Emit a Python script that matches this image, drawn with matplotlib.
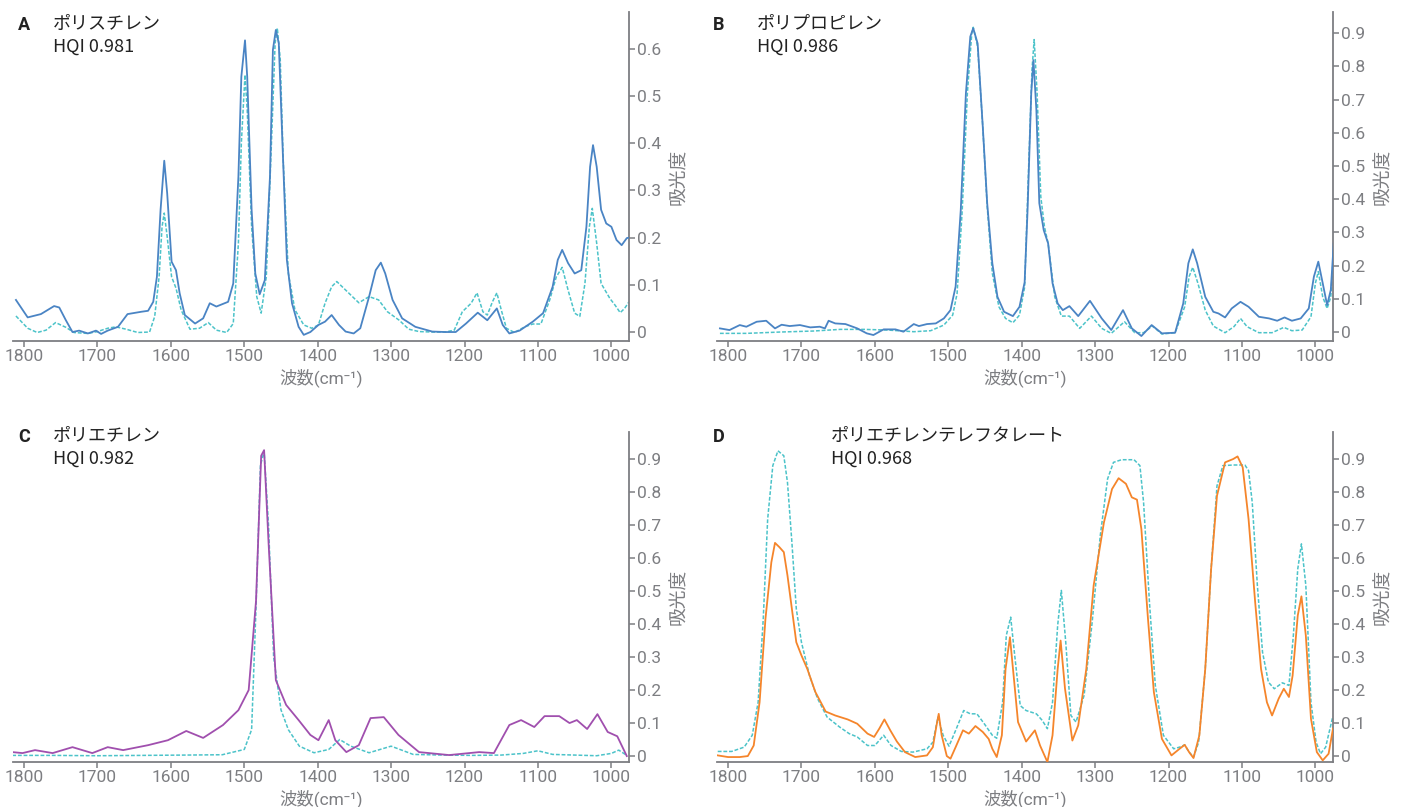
import matplotlib
matplotlib.use("Agg")
import matplotlib.pyplot as plt
from matplotlib.ticker import FuncFormatter

plt.rcParams['font.family'] = ['Roboto', 'Noto Sans CJK JP', 'DejaVu Sans']

# ---------------- data ----------------
# Panel A: polystyrene
ps_sample_wn = [1811, 1795, 1777, 1759, 1752, 1743, 1734, 1725, 1713, 1702, 1695, 1686, 1672, 1659, 1640, 1631,
                1624, 1619, 1614, 1609, 1605, 1599, 1593, 1588, 1581, 1567, 1556, 1547, 1538, 1522, 1515, 1508,
                1504, 1499, 1496, 1490, 1485, 1479, 1472, 1465, 1461, 1457, 1453, 1448, 1442, 1435, 1426, 1419,
                1410, 1399, 1390, 1381, 1371, 1362, 1351, 1342, 1330, 1321, 1314, 1308, 1298, 1285, 1267, 1244,
                1226, 1212, 1198, 1182, 1169, 1156, 1148, 1139, 1125, 1107, 1093, 1080, 1073, 1067, 1059, 1050,
                1041, 1034, 1029, 1025, 1020, 1014, 1007, 1000, 993, 986, 979, 976]
ps_sample_abs = [0.068, 0.031, 0.038, 0.055, 0.052, 0.025, 0.0, 0.003, -0.003, 0.003, -0.004, 0.003, 0.011, 0.038,
                 0.043, 0.045, 0.064, 0.117, 0.259, 0.363, 0.294, 0.149, 0.131, 0.082, 0.036, 0.018, 0.029, 0.061,
                 0.054, 0.064, 0.103, 0.329, 0.541, 0.618, 0.541, 0.259, 0.124, 0.080, 0.110, 0.329, 0.598, 0.640,
                 0.612, 0.400, 0.153, 0.061, 0.011, -0.006, 0.0, 0.015, 0.022, 0.036, 0.015, 0.001, -0.003, 0.008,
                 0.075, 0.131, 0.147, 0.124, 0.068, 0.029, 0.011, 0.001, 0.0, 0.0, 0.018, 0.041, 0.025, 0.050,
                 0.015, -0.003, 0.003, 0.022, 0.040, 0.096, 0.153, 0.174, 0.146, 0.124, 0.131, 0.223, 0.350, 0.396,
                 0.350, 0.259, 0.230, 0.223, 0.195, 0.184, 0.199, 0.200]
ps_ref_wn = [1811, 1795, 1782, 1770, 1757, 1743, 1732, 1713, 1700, 1686, 1675, 1661, 1645, 1629, 1622, 1616,
             1612, 1609, 1605, 1599, 1593, 1586, 1574, 1561, 1549, 1538, 1524, 1515, 1508, 1504, 1499, 1496,
             1490, 1483, 1477, 1470, 1463, 1458, 1455, 1451, 1447, 1440, 1431, 1419, 1408, 1399, 1390, 1381,
             1374, 1362, 1344, 1330, 1317, 1305, 1289, 1276, 1262, 1244, 1226, 1214, 1203, 1191, 1183, 1175,
             1169, 1162, 1156, 1150, 1143, 1132, 1118, 1107, 1096, 1084, 1075, 1067, 1059, 1050, 1043, 1036,
             1030, 1026, 1020, 1014, 1002, 995, 988, 982, 976]
ps_ref_abs = [0.034, 0.008, -0.001, 0.004, 0.020, 0.010, -0.001, -0.003, 0.001, 0.008, 0.011, 0.006, -0.001, 0.0,
              0.033, 0.117, 0.223, 0.252, 0.202, 0.117, 0.093, 0.047, 0.006, 0.008, 0.020, 0.004, -0.001, 0.018,
              0.188, 0.400, 0.545, 0.470, 0.223, 0.075, 0.040, 0.117, 0.400, 0.612, 0.644, 0.577, 0.365, 0.124,
              0.047, 0.015, 0.008, 0.015, 0.061, 0.096, 0.107, 0.089, 0.062, 0.075, 0.068, 0.043, 0.025, 0.006,
              0.001, 0.0, 0.0, 0.004, 0.043, 0.061, 0.083, 0.043, 0.036, 0.064, 0.083, 0.047, 0.008, -0.001,
              0.011, 0.017, 0.017, 0.068, 0.117, 0.137, 0.089, 0.040, 0.033, 0.103, 0.223, 0.262, 0.188, 0.103,
              0.071, 0.057, 0.041, 0.050, 0.064]

# Panel B: polypropylene
pp_sample_wn = [1811, 1798, 1784, 1775, 1761, 1748, 1736, 1727, 1716, 1702, 1688, 1675, 1668, 1663, 1654, 1640,
                1624, 1611, 1602, 1588, 1572, 1561, 1547, 1540, 1529, 1517, 1506, 1497, 1490, 1483, 1476, 1470,
                1466, 1460, 1453, 1447, 1440, 1433, 1424, 1412, 1403, 1396, 1392, 1387, 1384, 1380, 1376, 1370,
                1364, 1358, 1351, 1344, 1335, 1323, 1307, 1291, 1278, 1262, 1250, 1237, 1223, 1209, 1191, 1180,
                1173, 1167, 1161, 1150, 1139, 1132, 1123, 1114, 1102, 1091, 1077, 1063, 1052, 1042, 1032, 1020,
                1009, 1002, 996, 990, 984, 979, 975]
pp_sample_abs = [0.011, 0.006, 0.021, 0.016, 0.031, 0.034, 0.011, 0.022, 0.018, 0.021, 0.014, 0.016, 0.011, 0.034,
                 0.026, 0.024, 0.011, -0.004, -0.009, 0.008, 0.008, 0.001, 0.024, 0.018, 0.024, 0.026, 0.041, 0.066,
                 0.137, 0.367, 0.719, 0.890, 0.915, 0.869, 0.618, 0.388, 0.207, 0.106, 0.061, 0.048, 0.076, 0.150,
                 0.367, 0.719, 0.819, 0.669, 0.388, 0.307, 0.267, 0.147, 0.086, 0.066, 0.078, 0.048, 0.094, 0.041,
                 0.006, 0.066, 0.011, -0.012, 0.021, -0.004, -0.002, 0.086, 0.207, 0.249, 0.207, 0.106, 0.061, 0.056,
                 0.044, 0.071, 0.091, 0.076, 0.046, 0.041, 0.034, 0.044, 0.034, 0.041, 0.071, 0.167, 0.212, 0.147,
                 0.081, 0.127, 0.267]
pp_ref_wn = [1811, 1775, 1729, 1684, 1647, 1615, 1583, 1547, 1524, 1506, 1494, 1488, 1481, 1474, 1468, 1466,
             1460, 1453, 1447, 1440, 1431, 1422, 1412, 1403, 1396, 1391, 1386, 1383, 1379, 1374, 1369, 1364,
             1355, 1346, 1335, 1321, 1305, 1291, 1278, 1260, 1246, 1234, 1222, 1209, 1191, 1178, 1172, 1167,
             1160, 1150, 1139, 1123, 1111, 1102, 1093, 1077, 1059, 1043, 1032, 1018, 1006, 1000, 996, 990,
             984, 979, 975]
pp_ref_abs = [-0.004, -0.004, 0.0, 0.003, 0.008, 0.008, 0.006, 0.001, 0.004, 0.021, 0.051, 0.116, 0.367, 0.719,
              0.900, 0.918, 0.859, 0.618, 0.378, 0.177, 0.076, 0.041, 0.028, 0.051, 0.135, 0.468, 0.789, 0.881,
              0.719, 0.408, 0.317, 0.267, 0.106, 0.048, 0.048, 0.011, 0.048, 0.011, -0.004, 0.031, -0.002, -0.002,
              0.018, -0.006, -0.002, 0.076, 0.167, 0.195, 0.147, 0.066, 0.018, -0.002, 0.016, 0.041, 0.016, -0.002,
              -0.002, 0.014, 0.004, 0.006, 0.046, 0.147, 0.182, 0.106, 0.071, 0.106, 0.247]

# Panel C: polyethylene
pe_sample_wn = [1816, 1802, 1785, 1761, 1734, 1707, 1686, 1665, 1631, 1604, 1579, 1556, 1529, 1508, 1494, 1484,
                1477, 1473, 1467, 1457, 1443, 1426, 1410, 1399, 1385, 1376, 1361, 1344, 1328, 1310, 1290, 1262,
                1221, 1180, 1160, 1139, 1123, 1105, 1091, 1071, 1057, 1047, 1033, 1019, 1005, 992, 979]
pe_sample_abs = [0.012, 0.009, 0.018, 0.009, 0.027, 0.009, 0.027, 0.018, 0.033, 0.048, 0.076, 0.055, 0.094, 0.139,
                 0.200, 0.470, 0.910, 0.927, 0.650, 0.230, 0.155, 0.109, 0.064, 0.048, 0.109, 0.048, 0.012, 0.033,
                 0.115, 0.118, 0.064, 0.012, 0.003, 0.012, 0.009, 0.094, 0.109, 0.088, 0.121, 0.121, 0.100, 0.109,
                 0.082, 0.127, 0.073, 0.060, 0.0]
pe_ref_wn = [1816, 1760, 1700, 1640, 1580, 1530, 1500, 1490, 1484, 1478, 1473, 1467, 1460, 1450, 1440, 1425,
             1405, 1385, 1370, 1355, 1330, 1300, 1270, 1230, 1190, 1150, 1120, 1100, 1080, 1050, 1020, 1000,
             990, 979]
pe_ref_abs = [0.002, 0.002, 0.001, 0.002, 0.003, 0.004, 0.02, 0.08, 0.45, 0.88, 0.925, 0.70, 0.30, 0.14, 0.08,
              0.03, 0.01, 0.02, 0.05, 0.03, 0.01, 0.03, 0.005, 0.003, 0.002, 0.003, 0.008, 0.016, 0.005, 0.003,
              0.001, 0.008, 0.018, 0.002]

# Panel D: polyethylene terephthalate
pet_sample_wn = [1814, 1800, 1784, 1773, 1765, 1757, 1749, 1741, 1736, 1730, 1724, 1719, 1713, 1707, 1700, 1692,
                 1681, 1667, 1654, 1637, 1624, 1610, 1601, 1594, 1587, 1579, 1570, 1559, 1545, 1529, 1521, 1516,
                 1513, 1509, 1502, 1497, 1490, 1480, 1472, 1463, 1453, 1445, 1440, 1434, 1427, 1422, 1416, 1411,
                 1405, 1394, 1382, 1375, 1365, 1358, 1351, 1347, 1341, 1331, 1323, 1312, 1302, 1288, 1277, 1268,
                 1258, 1250, 1243, 1237, 1228, 1220, 1209, 1196, 1185, 1178, 1172, 1166, 1158, 1150, 1142, 1134,
                 1123, 1112, 1106, 1099, 1091, 1082, 1074, 1066, 1059, 1050, 1043, 1036, 1031, 1024, 1019, 1013,
                 1006, 998, 990, 982, 976]
pet_sample_abs = [0.002, -0.003, -0.003, 0.0, 0.032, 0.163, 0.416, 0.587, 0.646, 0.633, 0.618, 0.547, 0.446, 0.345,
                  0.305, 0.264, 0.194, 0.135, 0.123, 0.111, 0.098, 0.068, 0.058, 0.083, 0.111, 0.078, 0.044, 0.012,
                  -0.003, 0.002, 0.027, 0.093, 0.128, 0.063, 0.0, -0.008, 0.027, 0.078, 0.068, 0.091, 0.073, 0.052,
                  0.022, -0.003, 0.063, 0.264, 0.360, 0.244, 0.103, 0.044, 0.078, 0.032, -0.018, 0.063, 0.264, 0.350,
                  0.204, 0.047, 0.093, 0.264, 0.517, 0.708, 0.809, 0.842, 0.825, 0.784, 0.777, 0.688, 0.416, 0.194,
                  0.052, 0.002, 0.022, 0.034, 0.012, -0.006, 0.063, 0.264, 0.567, 0.789, 0.890, 0.900, 0.908, 0.875,
                  0.718, 0.466, 0.264, 0.163, 0.123, 0.174, 0.204, 0.179, 0.244, 0.426, 0.484, 0.365, 0.113, 0.012,
                  -0.013, 0.007, 0.083]
pet_ref_wn = [1814, 1795, 1778, 1767, 1759, 1752, 1746, 1739, 1732, 1724, 1719, 1713, 1707, 1700, 1689, 1678,
              1665, 1648, 1635, 1624, 1610, 1600, 1588, 1578, 1564, 1548, 1529, 1521, 1514, 1507, 1499, 1489,
              1479, 1470, 1461, 1451, 1440, 1434, 1426, 1421, 1415, 1410, 1402, 1394, 1380, 1372, 1365, 1358,
              1351, 1346, 1340, 1333, 1326, 1315, 1304, 1293, 1283, 1275, 1264, 1247, 1239, 1234, 1226, 1218,
              1207, 1193, 1185, 1178, 1172, 1166, 1159, 1150, 1142, 1134, 1126, 1112, 1096, 1091, 1086, 1079,
              1072, 1064, 1056, 1045, 1036, 1030, 1024, 1019, 1013, 1006, 999, 993, 986, 977, 976]
pet_ref_abs = [0.014, 0.014, 0.027, 0.063, 0.163, 0.416, 0.718, 0.880, 0.925, 0.910, 0.829, 0.648, 0.446, 0.345,
               0.244, 0.174, 0.118, 0.088, 0.068, 0.058, 0.032, 0.032, 0.063, 0.032, 0.014, 0.012, 0.022, 0.042,
               0.118, 0.063, 0.030, 0.083, 0.138, 0.128, 0.128, 0.098, 0.063, 0.054, 0.163, 0.365, 0.421, 0.315,
               0.153, 0.138, 0.128, 0.108, 0.083, 0.163, 0.396, 0.502, 0.345, 0.123, 0.103, 0.184, 0.406, 0.668,
               0.840, 0.890, 0.898, 0.898, 0.880, 0.769, 0.466, 0.214, 0.063, 0.022, 0.027, 0.034, 0.012, -0.003,
               0.042, 0.264, 0.567, 0.819, 0.880, 0.882, 0.882, 0.865, 0.769, 0.517, 0.315, 0.224, 0.204, 0.222,
               0.214, 0.365, 0.567, 0.643, 0.517, 0.163, 0.042, 0.007, 0.027, 0.113, 0.120]

panel_letters = ["A", "B", "C", "D"]
panel_titles = ["ポリスチレン", "ポリプロピレン", "ポリエチレン", "ポリエチレンテレフタレート"]
panel_hqi = ["HQI 0.981", "HQI 0.986", "HQI 0.982", "HQI 0.968"]
x_ticks = [1800, 1700, 1600, 1500, 1400, 1300, 1200, 1100, 1000]
x_label = "波数(cm⁻¹)"
y_label = "吸光度"

# ---------------- style ----------------
W, H = 1407, 807
fig = plt.figure(figsize=(W / 100, H / 100), dpi=100)

GRAY = "#7d7e82"
TXT = "#222222"
REF = "#4cc3c9"
sample_colors = ["#4a84c4", "#4a84c4", "#a04fae", "#f5852b"]

def px_rect(l, t, r, b):
    return [l / W, 1 - b / H, (r - l) / W, (b - t) / H]

rects = [px_rect(13, 12, 629, 341), px_rect(717, 12, 1333, 341),
         px_rect(13, 432, 629, 762), px_rect(717, 432, 1333, 762)]
ylims = [(-0.019, 0.678), (-0.027, 0.964), (-0.018, 0.982), (-0.018, 0.982)]
ymaxtick = [0.6, 0.9, 0.9, 0.9]

series = [(ps_sample_wn, ps_sample_abs, ps_ref_wn, ps_ref_abs),
          (pp_sample_wn, pp_sample_abs, pp_ref_wn, pp_ref_abs),
          (pe_sample_wn, pe_sample_abs, pe_ref_wn, pe_ref_abs),
          (pet_sample_wn, pet_sample_abs, pet_ref_wn, pet_ref_abs)]

title_pos = [(18, 53, 0), (713, 757, 0), (18, 53, 412), (713, 831, 412)]

fmt = FuncFormatter(lambda v, p: "0" if abs(v) < 1e-9 else f"{v:.1f}")

for i, ax_rect in enumerate(rects):
    ax = fig.add_axes(ax_rect)
    swn, sab, rwn, rab = series[i]
    ax.plot(rwn, rab, color=REF, lw=1.1, ls=(0, (2.5, 1.2)), zorder=2,
            dash_joinstyle="round")
    ax.plot(swn, sab, color=sample_colors[i], lw=1.3, zorder=3,
            solid_joinstyle="round")
    ax.set_xlim(1815, 976)
    ax.set_ylim(*ylims[i])
    ax.set_xticks(x_ticks)
    n = int(round(ymaxtick[i] * 10))
    ax.set_yticks([k / 10 for k in range(n + 1)])
    ax.yaxis.set_major_formatter(fmt)
    ax.yaxis.tick_right()
    ax.yaxis.set_label_position("right")
    for s in ["left", "top"]:
        ax.spines[s].set_visible(False)
    for s in ["right", "bottom"]:
        ax.spines[s].set_color(GRAY)
        ax.spines[s].set_linewidth(1.3)
    ax.tick_params(axis="both", colors=GRAY, labelcolor=GRAY, labelsize=12.5, length=4, width=1.1, pad=2)
    ax.set_xlabel(x_label, color=GRAY, fontsize=12.5, labelpad=3)
    ax.set_ylabel(y_label, color=GRAY, fontsize=13.5, labelpad=6)

    lx, tx, dy = title_pos[i]
    fig.text(lx / W, 1 - (30 + dy) / H, panel_letters[i], fontsize=13, fontweight="bold",
             color=TXT, ha="left", va="baseline")
    fig.text(tx / W, 1 - (24 + dy) / H, panel_titles[i], fontsize=13, color=TXT,
             ha="left", va="center", family=["Noto Sans CJK JP", "DejaVu Sans"])
    fig.text(tx / W, 1 - (52 + dy) / H, panel_hqi[i], fontsize=13, color=TXT,
             ha="left", va="baseline", family=["Noto Sans CJK JP", "DejaVu Sans"])

fig.savefig("out.png", dpi=100)
